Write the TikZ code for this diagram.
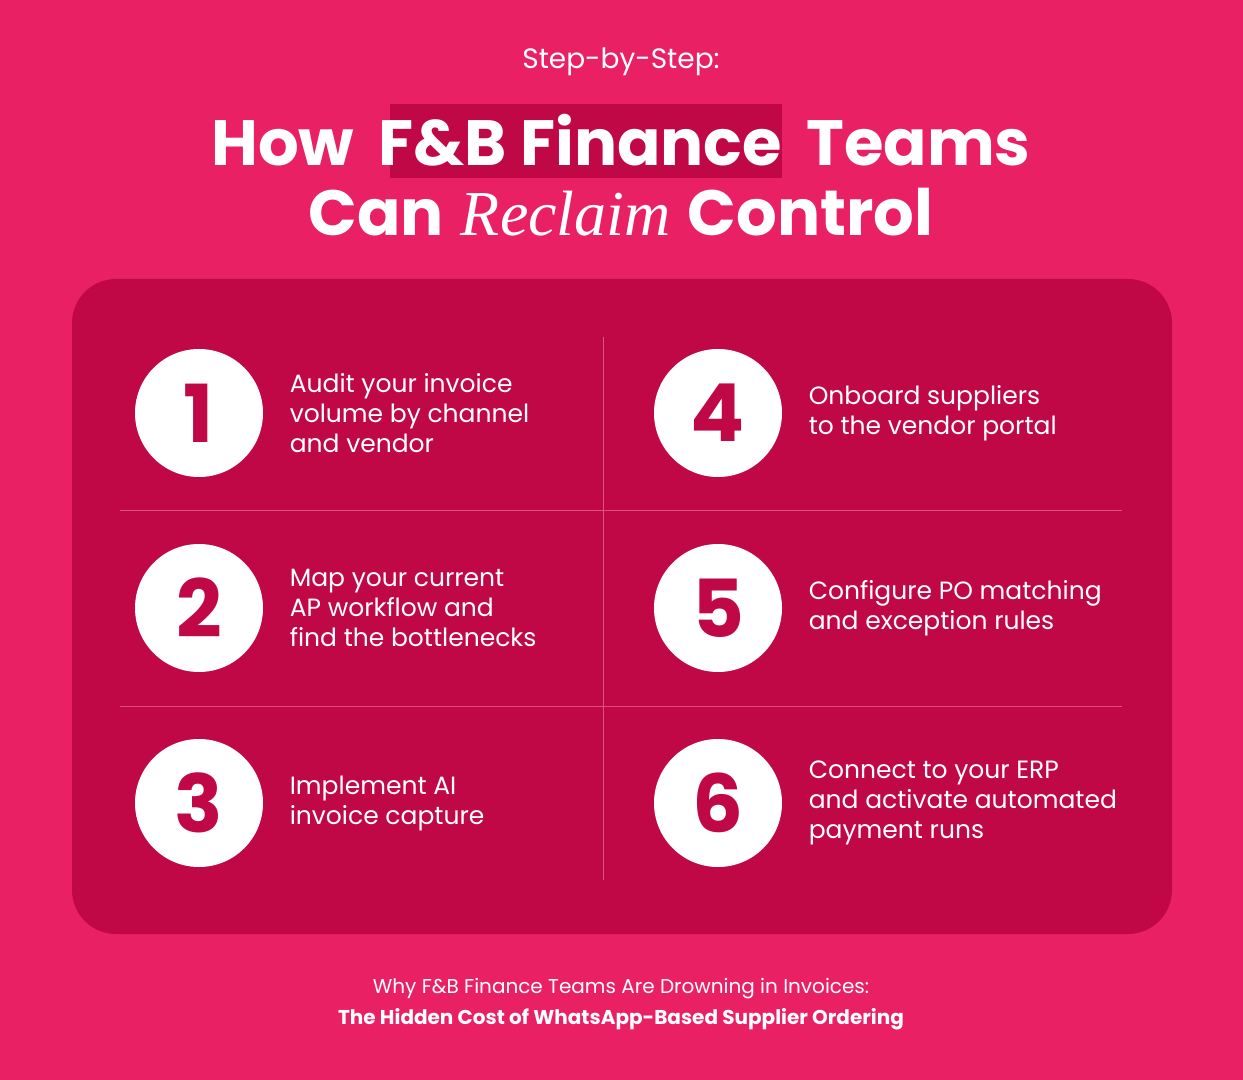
\documentclass[tikz,border=0pt]{standalone}
\usepackage{fontspec}
\setmainfont{Poppins}
\newfontfamily\serifit{Liberation Serif}
\usetikzlibrary{positioning}
\definecolor{BgColor}{RGB}{234,32,101}
\definecolor{PanelColor}{RGB}{192,8,70}
\definecolor{RuleColor}{RGB}{222,80,125}

\begin{document}
\begin{tikzpicture}[x=0.5pt, y=-0.5pt,
		badge/.style={circle, fill=white, minimum size=64pt, inner sep=0pt, text=PanelColor, font=\fontsize{40}{40}\selectfont\bfseries},
		item/.style={anchor=west, align=left, text=white, font=\fontsize{12.5}{15}\selectfont, inner sep=0pt},
		divider/.style={RuleColor, line width=0.4pt}
	]

	% Background and panel
	\fill[BgColor] (0, 0) rectangle (1243, 1080);
	\fill[PanelColor, rounded corners=22pt] (72, 279) rectangle (1172, 934);
	\fill[PanelColor] (390, 104) rectangle (782, 178);

	% Title
	\node[text=white, font=\fontsize{14}{14}\selectfont] (kicker) at (621, 62) {Step-by-Step:};
	\node[text=white, font=\fontsize{32}{32}\selectfont\bfseries] (title1) at (621, 140) {How \,F\&B Finance\, Teams};
	\node[text=white, font=\fontsize{32}{32}\selectfont] (title2) at (621, 212) {\textbf{Can} {\serifit\itshape Reclaim} \textbf{Control}};

	% Dividers
	\draw[divider] (603, 337) -- (603, 880);
	\draw[divider] (120, 510) -- (1122, 510);
	\draw[divider] (120, 706) -- (1122, 706);

	% Steps
	\node[badge] (s1) at (199, 413) {1};
	\node[badge] (s2) at (199, 608) {2};
	\node[badge] (s3) at (199, 803) {3};
	\node[badge] (s4) at (718, 413) {4};
	\node[badge] (s5) at (718, 608) {5};
	\node[badge] (s6) at (718, 803) {6};

	\node[item, right=13pt of s1] (t1) {Audit your invoice\\volume by channel\\and vendor};
	\node[item, right=13pt of s2] (t2) {Map your current\\AP workflow and\\find the bottlenecks};
	\node[item, right=13pt of s3] (t3) {Implement AI\\invoice capture};
	\node[item, right=13pt of s4] (t4) {Onboard suppliers\\to the vendor portal};
	\node[item, right=13pt of s5] (t5) {Configure PO matching\\and exception rules};
	\node[item, right=13pt of s6] (t6) {Connect to your ERP\\and activate automated\\payment runs};

	% Footer
	\node[text=white, font=\fontsize{10}{10}\selectfont] (foot1) at (621, 989) {Why F\&B Finance Teams Are Drowning in Invoices:};
	\node[text=white, font=\fontsize{10}{10}\selectfont\bfseries] (foot2) at (621, 1019) {The Hidden Cost of WhatsApp-Based Supplier Ordering};

\end{tikzpicture}
\end{document}
